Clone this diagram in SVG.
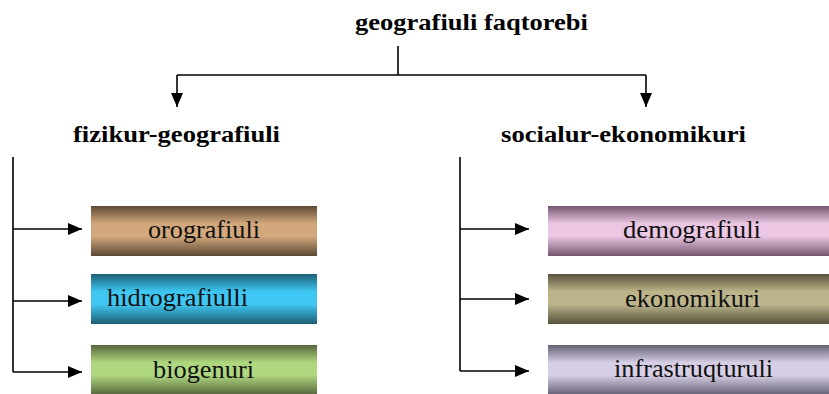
<svg xmlns="http://www.w3.org/2000/svg" width="829" height="394" viewBox="0 0 829 394">
<style>
.ln{stroke:#000;stroke-width:1.6;fill:none}
.h{font-family:"Liberation Serif","Times New Roman",serif;font-weight:bold;font-size:23.5px;fill:#000}
.t{font-family:"Liberation Serif","Times New Roman",serif;font-size:25px;fill:#111}
</style>
<defs>
<marker id="ah" viewBox="0 0 14 12" refX="14" refY="6" markerWidth="14" markerHeight="12" markerUnits="userSpaceOnUse" orient="auto">
<path d="M0,0 L14,6 L0,12 Z" fill="#000"/>
</marker>
<linearGradient id="gOro" x1="0" y1="0" x2="0" y2="1">
<stop offset="0" stop-color="#5e4a36"/><stop offset="0.35" stop-color="#d2a77c"/><stop offset="0.6" stop-color="#d4a97e"/><stop offset="1" stop-color="#5e4a36"/>
</linearGradient>
<linearGradient id="gHid" x1="0" y1="0" x2="0" y2="1">
<stop offset="0" stop-color="#1c5e72"/><stop offset="0.35" stop-color="#3ec6f2"/><stop offset="0.6" stop-color="#40c8f4"/><stop offset="1" stop-color="#1c5e72"/>
</linearGradient>
<linearGradient id="gBio" x1="0" y1="0" x2="0" y2="1">
<stop offset="0" stop-color="#56663c"/><stop offset="0.35" stop-color="#aed67e"/><stop offset="0.6" stop-color="#b0d880"/><stop offset="1" stop-color="#56663c"/>
</linearGradient>
<linearGradient id="gDem" x1="0" y1="0" x2="0" y2="1">
<stop offset="0" stop-color="#74566f"/><stop offset="0.35" stop-color="#eac6e2"/><stop offset="0.6" stop-color="#ecc8e4"/><stop offset="1" stop-color="#74566f"/>
</linearGradient>
<linearGradient id="gEko" x1="0" y1="0" x2="0" y2="1">
<stop offset="0" stop-color="#57513c"/><stop offset="0.35" stop-color="#bbb48a"/><stop offset="0.6" stop-color="#bdb68c"/><stop offset="1" stop-color="#57513c"/>
</linearGradient>
<linearGradient id="gInf" x1="0" y1="0" x2="0" y2="1">
<stop offset="0" stop-color="#656073"/><stop offset="0.35" stop-color="#d6cee4"/><stop offset="0.6" stop-color="#d8d0e6"/><stop offset="1" stop-color="#656073"/>
</linearGradient>
</defs>

<g id="connectors">
<path class="ln" d="M398,46 V75"/>
<path class="ln" d="M177,75 H646"/>
<path class="ln" d="M177,75 V107" marker-end="url(#ah)"/>
<path class="ln" d="M646,75 V107" marker-end="url(#ah)"/>
<path class="ln" d="M13,157 V372"/>
<path class="ln" d="M13,229 H82" marker-end="url(#ah)"/>
<path class="ln" d="M13,301 H82" marker-end="url(#ah)"/>
<path class="ln" d="M13,372 H82" marker-end="url(#ah)"/>
<path class="ln" d="M460,157 V371"/>
<path class="ln" d="M460,229 H529" marker-end="url(#ah)"/>
<path class="ln" d="M460,299 H529" marker-end="url(#ah)"/>
<path class="ln" d="M460,371 H529" marker-end="url(#ah)"/>
</g>

<g id="root">
<text class="h" x="355" y="30" textLength="233" lengthAdjust="spacingAndGlyphs">geografiuli faqtorebi</text>
</g>
<g id="fizikur">
<text class="h" x="73" y="142" textLength="207" lengthAdjust="spacingAndGlyphs">fizikur-geografiuli</text>
</g>
<g id="socialur">
<text class="h" x="501" y="142" textLength="245" lengthAdjust="spacingAndGlyphs">socialur-ekonomikuri</text>
</g>

<g id="orografiuli">
<rect x="91" y="206" width="226" height="50" fill="url(#gOro)"/>
<text class="t" x="148" y="238" textLength="112" lengthAdjust="spacingAndGlyphs">orografiuli</text>
</g>
<g id="hidrografiulli">
<rect x="91" y="274" width="226" height="50" fill="url(#gHid)"/>
<text class="t" x="107" y="306" textLength="141" lengthAdjust="spacingAndGlyphs">hidrografiulli</text>
</g>
<g id="biogenuri">
<rect x="91" y="345" width="226" height="50" fill="url(#gBio)"/>
<text class="t" x="153" y="378" textLength="101" lengthAdjust="spacingAndGlyphs">biogenuri</text>
</g>

<g id="demografiuli">
<rect x="548" y="206" width="290" height="50" fill="url(#gDem)"/>
<text class="t" x="623" y="238" textLength="138" lengthAdjust="spacingAndGlyphs">demografiuli</text>
</g>
<g id="ekonomikuri">
<rect x="548" y="274" width="290" height="50" fill="url(#gEko)"/>
<text class="t" x="625" y="307" textLength="135" lengthAdjust="spacingAndGlyphs">ekonomikuri</text>
</g>
<g id="infrastruqturuli">
<rect x="548" y="345" width="290" height="50" fill="url(#gInf)"/>
<text class="t" x="614" y="377" textLength="159" lengthAdjust="spacingAndGlyphs">infrastruqturuli</text>
</g>
</svg>
